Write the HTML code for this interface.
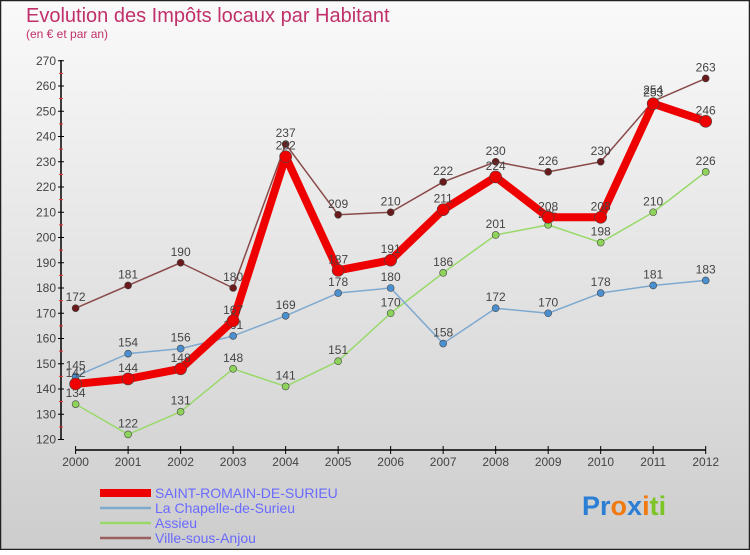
<!DOCTYPE html>
<html><head><meta charset="utf-8"><style>
body{margin:0;width:750px;height:550px;overflow:hidden;font-family:"Liberation Sans",sans-serif}
</style></head><body>
<svg width="750" height="550" xmlns="http://www.w3.org/2000/svg">
<defs><linearGradient id="bg" x1="0" y1="0" x2="0" y2="1"><stop offset="0" stop-color="#fafafa"/><stop offset="1" stop-color="#cdcdcd"/></linearGradient></defs>
<rect x="0.5" y="0.5" width="749" height="549" fill="url(#bg)" stroke="#222" stroke-width="1.5"/>
<text x="26" y="22" font-size="20" fill="#c0306a">Evolution des Impôts locaux par Habitant</text>
<text x="26" y="38" font-size="12" fill="#c0306a">(en € et par an)</text>
<g id="axes"></g><g id="series"></g>
<g>
<rect x="100" y="489" width="51" height="8" fill="#e00"/>
<text x="155" y="498" font-size="14" fill="#6a6aff">SAINT-ROMAIN-DE-SURIEU</text>
<line x1="100" y1="508" x2="151" y2="508" stroke="#7fa9cf" stroke-width="2.5"/>
<text x="155" y="513" font-size="14" fill="#6a6aff">La Chapelle-de-Surieu</text>
<line x1="100" y1="523" x2="151" y2="523" stroke="#99d96a" stroke-width="2.5"/>
<text x="155" y="528" font-size="14" fill="#6a6aff">Assieu</text>
<line x1="100" y1="538" x2="151" y2="538" stroke="#9a6060" stroke-width="2.5"/>
<text x="155" y="543" font-size="14" fill="#6a6aff">Ville-sous-Anjou</text>
</g>
<text x="582" y="515" font-size="27" font-weight="bold"><tspan fill="#2a7fd4">Pr</tspan><tspan fill="#f07a10">o</tspan><tspan fill="#2a7fd4">x</tspan><tspan fill="#f07a10">i</tspan><tspan fill="#7cc428">ti</tspan></text>
</svg>
<script>
const years=["2000","2001","2002","2003","2004","2005","2006","2007","2008","2009","2010","2011","2012"];
const yTicks=[120,130,140,150,160,170,180,190,200,210,220,230,240,250,260,270];
const saintRomain=[142,144,148,167,232,187,191,211,224,208,208,253,246];
const chapelle=[145,154,156,161,169,178,180,158,172,170,178,181,183];
const assieu=[134,122,131,148,141,151,170,186,201,205,198,210,226];
const ville=[172,181,190,180,237,209,210,222,230,226,230,254,263];
const NS="http://www.w3.org/2000/svg";
const xs=i=>75.6+i*(705.7-75.6)/12;
const ys=v=>439.5-(v-120)*2.525;
function mk(t,a,p){const e=document.createElementNS(NS,t);for(const k in a)e.setAttribute(k,a[k]);p.appendChild(e);return e;}
const ax=document.getElementById('axes');
let e=mk('line',{x1:61,y1:60,x2:61,y2:440,stroke:'#000','stroke-width':1.5},ax);


e=mk('line',{x1:75.6,y1:450,x2:705.7,y2:450,stroke:'#000','stroke-width':1.5},ax);


yTicks.forEach((v,i)=>{
 mk('line',{x1:58,x2:64,y1:ys(v),y2:ys(v),stroke:'#000'},ax);
 if(i<yTicks.length-1)mk('line',{x1:59,x2:63,y1:ys(v+5),y2:ys(v+5),stroke:'#e33'},ax);
 const t=mk('text',{x:56,y:ys(v)+4,'font-size':12,'text-anchor':'end',fill:'#444'},ax);t.textContent=v;
 
 
});
years.forEach((y,i)=>{
 mk('line',{x1:xs(i),x2:xs(i),y1:446,y2:454,stroke:'#000'},ax);
 const t=mk('text',{x:xs(i),y:466,'font-size':12,'text-anchor':'middle',fill:'#444'},ax);t.textContent=y;
 
 
});
const sg=document.getElementById('series');
function series(vals,color,w,r,name,mcol){
 const g=mk('g',{},sg);
 
 
 mk('polyline',{points:vals.map((v,i)=>xs(i)+','+ys(v)).join(' '),fill:'none',stroke:color,'stroke-width':w,'stroke-linejoin':'round'},g);
 vals.forEach((v,i)=>{
  const c=mk('circle',{cx:xs(i),cy:ys(v),r:r,fill:mcol,stroke:'#444','stroke-width':0.6},g);
  
  
  const t=mk('text',{x:xs(i),y:ys(v)-7,'font-size':12,'text-anchor':'middle',fill:'#444'},g);t.textContent=v;
  
  
 });
}
series(assieu,'#99d96a',1.5,3.5,'series-assieu','#8fd45a');
series(chapelle,'#7fa9cf',1.5,3.5,'series-chapelle','#4a90d0');
series(ville,'#8a4a4a',1.5,3.5,'series-ville','#6a1a1a');
series(saintRomain,'#ee0000',8,6,'series-saint-romain','#ee0000');
</script>
</body></html>
